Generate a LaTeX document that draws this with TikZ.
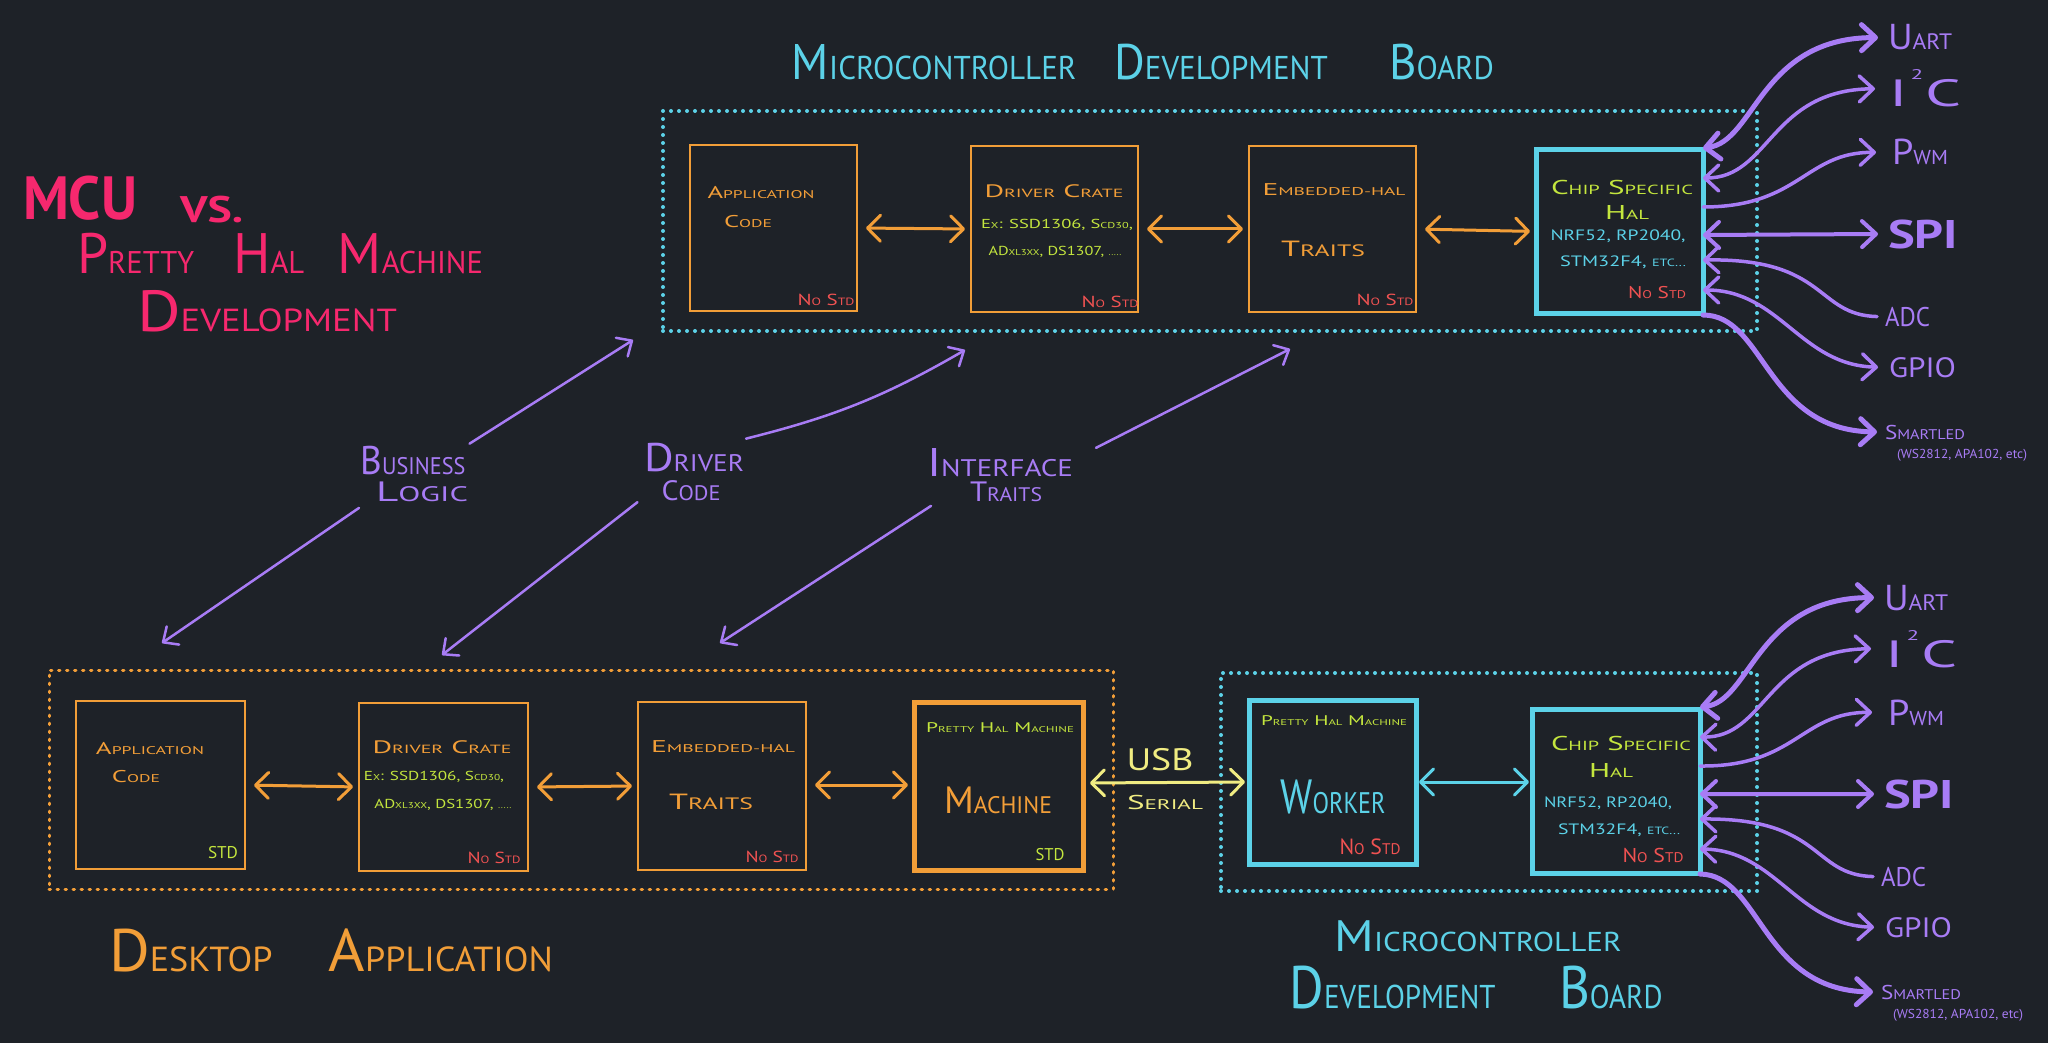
\documentclass[tikz,border=0pt]{standalone}
\usepackage{fontspec}
\setmainfont{PT Sans}
\usepackage{graphicx}
\usetikzlibrary{arrows.meta,calc}
\definecolor{bg}{RGB}{30,34,40}
\definecolor{orng}{RGB}{242,158,56}
\definecolor{cyn}{RGB}{92,210,232}
\definecolor{purp}{RGB}{168,124,245}
\definecolor{grn}{RGB}{196,230,62}
\definecolor{redt}{RGB}{240,82,82}
\definecolor{pnk}{RGB}{246,40,110}
\definecolor{ylw}{RGB}{240,236,130}
\newcommand\scr{0.66}
\newcommand\hsc[2]{#1\scalebox{\scr}{\MakeUppercase{#2}}}
\newcommand\fw[2]{\resizebox{#1pt}{\height}{#2}}
\newcommand\fs[1]{\fontsize{#1}{#1}\selectfont}
\tikzset{
  tx/.style={inner sep=0pt,outer sep=0pt},
  obox/.style={draw=orng,line width=2.5pt,minimum width=167pt,minimum height=166pt,inner sep=0pt,outer sep=0pt},
  cbox/.style={draw=cyn,line width=5pt,minimum width=167pt,minimum height=164pt,inner sep=0pt,outer sep=0pt},
  dotc/.style={draw=cyn,line width=4pt,dash pattern=on 0pt off 8pt,line cap=round,inner sep=0pt,outer sep=0pt},
  doto/.style={draw=orng,line width=3pt,dash pattern=on 1.5pt off 6.5pt,line cap=round,inner sep=0pt,outer sep=0pt},
  vb/.tip={Straight Barb[length=14pt,width=26pt,round]},
  ob/.tip={Straight Barb[length=13pt,width=26pt,round]},
  db/.tip={Straight Barb[length=12pt,width=22pt,round]},
  pu/.style={draw=purp,line width=3.5pt,line cap=round},
  oar/.style={draw=orng,line width=3pt,line cap=round,ob-ob,shorten <=9pt,shorten >=6pt},
  dg/.style={draw=purp,line width=2.5pt,line cap=round,-db},
}
\newcommand\ioside[1]{%
\node[tx,text=purp,anchor=base west] (uart#1) at (1888,50) {\fs{36}\def\scr{0.62}\fw{64}{\hsc{U}{art}}};
\node[tx,text=purp,anchor=base west] (iic#1) at (1889,107) {\fs{38}\fw{72}{I\hspace{2pt}\raisebox{27pt}{\fs{14}2}\hspace{1pt}C}};
\node[tx,text=purp,anchor=base west] (pwm#1) at (1892,165) {\fs{36}\def\scr{0.56}\fw{56}{\hsc{P}{wm}}};
\node[tx,text=purp,anchor=base west] (spi#1) at (1888,248) {\fs{40}\bfseries\fw{70}{SPI}};
\node[tx,text=purp,anchor=base west] (adc#1) at (1885,326) {\fs{27}\fw{45}{ADC}};
\node[tx,text=purp,anchor=base west] (gpio#1) at (1889,377) {\fs{28}\fw{67}{GPIO}};
\node[tx,text=purp,anchor=base west] (sled#1) at (1885,439) {\fs{20}\def\scr{0.7}\fw{80}{\hsc{S}{martled}}};
\node[tx,text=purp,anchor=base west] (ws#1) at (1897,458) {\fs{13}\fw{130}{(WS2812, APA102, etc)}};
\draw[pu,line width=5pt,vb-vb] ([yshift=2pt]chip#1.north east) .. controls (1755,142) and (1760,38) .. ([xshift=-10pt]uart#1.west);
\draw[pu,vb-vb] ([yshift=-28pt]chip#1.north east) .. controls (1770,178) and (1770,90) .. ([xshift=-14pt]iic#1.west);
\draw[pu,-vb] ([yshift=-57pt]chip#1.north east) .. controls (1800,207) and (1805,152) .. ([xshift=-16pt]pwm#1.west);
\draw[pu,line width=4pt,vb-vb] ([yshift=-85pt]chip#1.north east) -- ([xshift=-10pt]spi#1.west);
\draw[pu,vb-] ([yshift=-110pt]chip#1.north east) .. controls (1828,258) and (1815,315) .. ([xshift=-8pt]adc#1.west);
\draw[pu,vb-vb] ([yshift=-140pt]chip#1.north east) .. controls (1780,290) and (1800,365) .. ([xshift=-11pt]gpio#1.west);
\draw[pu,line width=5pt,-vb] ([yshift=-165pt]chip#1.north east) .. controls (1765,315) and (1765,430) .. ([xshift=-8pt]sled#1.west);
}
\begin{document}
\begin{tikzpicture}[x=1pt,y=-1pt]
\fill[bg] (0,0) rectangle (2048,1043);
% ---------------- pink title
\node[tx,text=pnk,anchor=base west] (mcu) at (23,220) {\fs{61}\bfseries\fw{114}{MCU}};
\node[tx,text=pnk,anchor=base west] (vs) at (180,223) {\fs{37}\bfseries\fw{63}{VS.}};
\node[tx,text=pnk,anchor=base west] (phmt) at (77,273) {\fs{57}\def\scr{0.55}\fw{406}{\hsc{P}{retty}\hspace{0.7em}\hsc{H}{al}\hspace{0.6em}\hsc{M}{achine}}};
\node[tx,text=pnk,anchor=base west] (devt) at (137,331) {\fs{58}\def\scr{0.55}\fw{260}{\hsc{D}{evelopment}}};
% ---------------- top board
\node[tx,text=cyn] (ttlT) at (1143,62) {\fs{50}\def\scr{0.66}\fw{702}{\hsc{M}{icrocontroller}\hspace{0.8em}\hsc{D}{evelopment}\hspace{1.3em}\hsc{B}{oard}}};
\node[dotc,minimum width=1094pt,minimum height=220pt] (mcuT) at (1210,221) {};
\node[obox] (appT) at (773.5,228) {};
\node[obox] (drvT) at (1054.5,229) {};
\node[obox] (embT) at (1332.5,229) {};
\node[cbox,minimum height=163pt] (chipT) at (1619.5,231.5) {};
\draw[oar] (appT.east) -- (drvT.west);
\draw[oar] (drvT.east) -- (embT.west);
\draw[oar] (embT.east) -- (chipT.west);
\node[tx,text=orng] (tA1) at (761,193) {\fs{17}\fw{107}{\hsc{A}{pplication}}};
\node[tx,text=orng] (tA2) at (748,222) {\fs{17}\fw{48}{\hsc{C}{ode}}};
\node[tx,text=redt] (tA3) at (826,300) {\fs{16}\fw{57}{\hsc{N}{o} \hsc{S}{td}}};
\node[tx,text=orng] (tD1) at (1054,191) {\fs{18}\fw{139}{\hsc{D}{river} \hsc{C}{rate}}};
\node[tx,text=grn] (tD2) at (1057,225) {\fs{13}\fw{152}{\hsc{E}{x}: SSD1306, \hsc{S}{cd30},}};
\node[tx,text=grn] (tD3) at (1055,252) {\fs{13}\fw{133}{\hsc{AD}{xl3xx}, DS1307, \scalebox{0.6}{.....}}};
\node[tx,text=redt] (tD4) at (1110,302) {\fs{16}\fw{57}{\hsc{N}{o} \hsc{S}{td}}};
\node[tx,text=orng] (tE1) at (1334,190) {\fs{17}\fw{143}{\hsc{E}{mbedded-hal}}};
\node[tx,text=orng] (tE2) at (1323,249) {\fs{22}\def\scr{0.75}\fw{84}{\hsc{T}{raits}}};
\node[tx,text=redt] (tE3) at (1385,300) {\fs{16}\fw{57}{\hsc{N}{o} \hsc{S}{td}}};
\node[tx,text=grn] (tC1) at (1622,187) {\fs{20}\fw{142}{\hsc{C}{hip} \hsc{S}{pecific}}};
\node[tx,text=grn] (tC2) at (1627,212) {\fs{20}\fw{44}{\hsc{H}{al}}};
\node[tx,text=cyn] (tC3) at (1618,236) {\fs{15}\fw{135}{NRF52, RP2040,}};
\node[tx,text=cyn] (tC4) at (1623,262) {\fs{15}\fw{126}{STM32F4, \scalebox{0.7}{ETC...}}};
\node[tx,text=redt] (tC5) at (1657,293) {\fs{17}\fw{58}{\hsc{N}{o} \hsc{S}{td}}};
\ioside{T}
% ---------------- diagonal links
\node[tx,text=purp] (blA) at (413,460) {\fs{40}\def\scr{0.6}\fw{105}{\hsc{B}{usiness}}};
\node[tx,text=purp] (blB) at (422,492) {\fs{28}\def\scr{0.75}\fw{92}{\hsc{L}{ogic}}};
\node[tx,text=purp] (dcA) at (694,458) {\fs{40}\def\scr{0.6}\fw{100}{\hsc{D}{river}}};
\node[tx,text=purp] (dcB) at (691,491) {\fs{28}\def\scr{0.75}\fw{59}{\hsc{C}{ode}}};
\node[tx,text=purp] (itA) at (1000,463) {\fs{40}\def\scr{0.6}\fw{146}{\hsc{I}{nterface}}};
\node[tx,text=purp] (itB) at (1006,492) {\fs{28}\def\scr{0.7}\fw{72}{\hsc{T}{raits}}};
\coordinate (blT) at (633,340);
\coordinate (blD) at (162,643);
\coordinate (dcT) at (965,350);
\coordinate (dcD) at (442,655);
\coordinate (itT) at (1290,349);
\coordinate (itD) at (720,643);
\draw[dg] ([xshift=4pt,yshift=2pt]blA.north east) -- (blT);
\draw[dg] ([xshift=-17pt,yshift=-6pt]blB.south west) -- (blD);
\draw[dg] ([xshift=2pt,yshift=5pt]dcA.north east) to[bend right=8] (dcT);
\draw[dg] ([xshift=-24pt,yshift=-1pt]dcB.south west) -- (dcD);
\draw[dg] ([xshift=23pt,yshift=1pt]itA.north east) -- (itT);
\draw[dg] ([xshift=-39pt,yshift=-4pt]itB.south west) -- (itD);
% ---------------- desktop application
\node[doto,minimum width=1064pt,minimum height=219pt] (desk) at (581,779.5) {};
\node[obox,minimum width=169pt,minimum height=168pt] (appB) at (160.5,785) {};
\node[obox,minimum width=169pt,minimum height=168pt] (drvB) at (443.5,787) {};
\node[obox,minimum width=168pt,minimum height=168pt] (embB) at (722,786) {};
\node[obox,line width=5pt,minimum width=169pt,minimum height=168pt] (phmB) at (998.5,786) {};
\draw[oar] (appB.east) -- (drvB.west);
\draw[oar] (drvB.east) -- (embB.west);
\draw[oar] ([yshift=1pt]embB.east) -- ([yshift=1pt]phmB.west);
\node[tx,text=orng] (bA1) at (150,749) {\fs{17}\fw{108}{\hsc{A}{pplication}}};
\node[tx,text=orng] (bA2) at (136,777) {\fs{17}\fw{48}{\hsc{C}{ode}}};
\node[tx,text=grn] (bA3) at (223,853) {\fs{17}\fw{30}{STD}};
\node[tx,text=orng] (bD1) at (442,747) {\fs{18}\fw{139}{\hsc{D}{river} \hsc{C}{rate}}};
\node[tx,text=grn] (bD2) at (434,777) {\fs{13}\fw{140}{\hsc{E}{x}: SSD1306, \hsc{S}{cd30},}};
\node[tx,text=grn] (bD3) at (443,805) {\fs{13}\fw{137}{\hsc{AD}{xl3xx}, DS1307, \scalebox{0.6}{.....}}};
\node[tx,text=redt] (bD4) at (494,858) {\fs{16}\fw{53}{\hsc{N}{o} \hsc{S}{td}}};
\node[tx,text=orng] (bE1) at (723,747) {\fs{17}\fw{144}{\hsc{E}{mbedded-hal}}};
\node[tx,text=orng] (bE2) at (711,802) {\fs{22}\def\scr{0.75}\fw{84}{\hsc{T}{raits}}};
\node[tx,text=redt] (bE3) at (772,857) {\fs{16}\fw{53}{\hsc{N}{o} \hsc{S}{td}}};
\node[tx,text=grn] (bP1) at (1000,728) {\fs{14}\def\scr{0.6}\fw{148}{\hsc{P}{retty} \hsc{H}{al} \hsc{M}{achine}}};
\node[tx,text=orng] (bP2) at (998,800) {\fs{38}\def\scr{0.63}\fw{108}{\hsc{M}{achine}}};
\node[tx,text=grn] (bP3) at (1050,855) {\fs{17}\fw{29}{STD}};
\node[tx,text=orng] (deskL) at (331,950) {\fs{60}\def\scr{0.58}\fw{444}{\hsc{D}{esktop}\hspace{0.9em}\hsc{A}{pplication}}};
% ---------------- bottom board
\node[dotc,minimum width=536pt,minimum height=218pt] (mcuB) at (1489,782) {};
\node[cbox] (workB) at (1332.5,782) {};
\node[cbox,minimum width=168pt] (chipB) at (1616,791) {};
\draw[draw=ylw,line width=3pt,line cap=round,ob-ob,shorten <=7pt,shorten >=4pt] ([yshift=3pt]phmB.east) -- (workB.west);
\draw[draw=cyn,line width=3pt,line cap=round,ob-ob,shorten <=3pt,shorten >=3pt] (workB.east) -- (workB.east -| chipB.west);
\node[tx,text=ylw] (usb) at (1160,760) {\fs{31}\fw{67}{USB}};
\node[tx,text=ylw] (serial) at (1165,802) {\fs{20}\def\scr{0.7}\fw{76}{\hsc{S}{erial}}};
\node[tx,text=grn] (wP1) at (1334,721) {\fs{14}\def\scr{0.6}\fw{146}{\hsc{P}{retty} \hsc{H}{al} \hsc{M}{achine}}};
\node[tx,text=cyn] (wP2) at (1333,797) {\fs{48}\def\scr{0.62}\fw{105}{\hsc{W}{orker}}};
\node[tx,text=redt] (wP3) at (1370,847) {\fs{22}\def\scr{0.7}\fw{61}{\hsc{N}{o} \hsc{S}{td}}};
\node[tx,text=grn] (cB1) at (1621,743) {\fs{20}\fw{140}{\hsc{C}{hip} \hsc{S}{pecific}}};
\node[tx,text=grn] (cB2) at (1611,770) {\fs{20}\fw{44}{\hsc{H}{al}}};
\node[tx,text=cyn] (cB3) at (1608,803) {\fs{15}\fw{128}{NRF52, RP2040,}};
\node[tx,text=cyn] (cB4) at (1619,830) {\fs{15}\fw{122}{STM32F4, \scalebox{0.7}{ETC...}}};
\node[tx,text=redt] (cB5) at (1653,855) {\fs{20}\def\scr{0.7}\fw{61}{\hsc{N}{o} \hsc{S}{td}}};
\node[tx,text=cyn] (mcuL1) at (1478,936) {\fs{44}\def\scr{0.62}\fw{287}{\hsc{M}{icrocontroller}}};
\node[tx,text=cyn] (mcuL2) at (1476,988) {\fs{60}\def\scr{0.55}\fw{373}{\hsc{D}{evelopment}\hspace{1.2em}\hsc{B}{oard}}};
\begin{scope}[shift={(-4,560)}]
\ioside{B}
\end{scope}
\end{tikzpicture}
\end{document}
